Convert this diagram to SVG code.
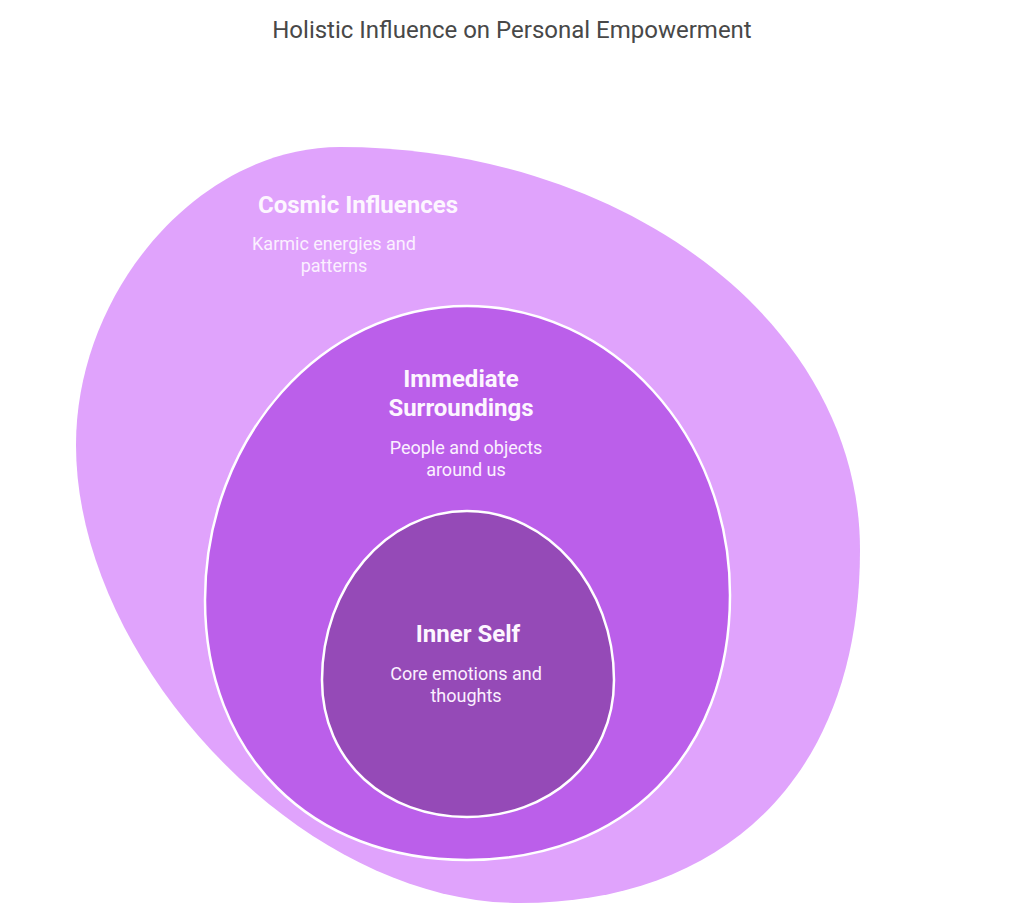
<svg xmlns="http://www.w3.org/2000/svg" width="1024" height="920" viewBox="0 0 1024 920">
<style>
.title{font-family:Roboto,"Liberation Sans",sans-serif;font-size:24px;fill:#484848;text-anchor:middle}
.h{font-family:Roboto,"Liberation Sans",sans-serif;font-size:24px;font-weight:bold;fill:#fdf6ff;text-anchor:middle}
.d{font-family:Roboto,"Liberation Sans",sans-serif;font-size:18px;fill:#fbf0ff;text-anchor:middle}
.ring{stroke:#ffffff;stroke-width:2.5}
</style>
<rect width="1024" height="920" fill="#ffffff"/>
<text class="title" x="512" y="38">Holistic Influence on Personal Empowerment</text>
<g id="cosmic">
<path d="M76,445 C76,290 200,147 340,147 C620,147 860,320 860,550 C860,780 720,903 520,903 C300,903 76,660 76,445 Z" fill="#e0a3fc"/>
<text class="h" x="358" y="213">Cosmic Influences</text>
<text class="d" x="334" y="250">Karmic energies and</text>
<text class="d" x="334" y="272">patterns</text>
</g>
<g id="surroundings">
<path class="ring" d="M467,306 C612,306 730,435 730,595 C730,754 625,860 467,860 C310,860 205,754 205,600 C205,438 322,306 467,306 Z" fill="#bb5fea"/>
<text class="h" x="461" y="387">Immediate</text>
<text class="h" x="461" y="416">Surroundings</text>
<text class="d" x="466" y="454">People and objects</text>
<text class="d" x="466" y="476">around us</text>
</g>
<g id="inner">
<path class="ring" d="M467,511 C548,511 614,587 614,680 C614,762 548,817 467,817 C386,817 322,762 322,680 C322,587 386,511 467,511 Z" fill="#954ab7"/>
<text class="h" x="468" y="642">Inner Self</text>
<text class="d" x="466" y="680">Core emotions and</text>
<text class="d" x="466" y="702">thoughts</text>
</g>
<g id="connectors"></g>
</svg>
